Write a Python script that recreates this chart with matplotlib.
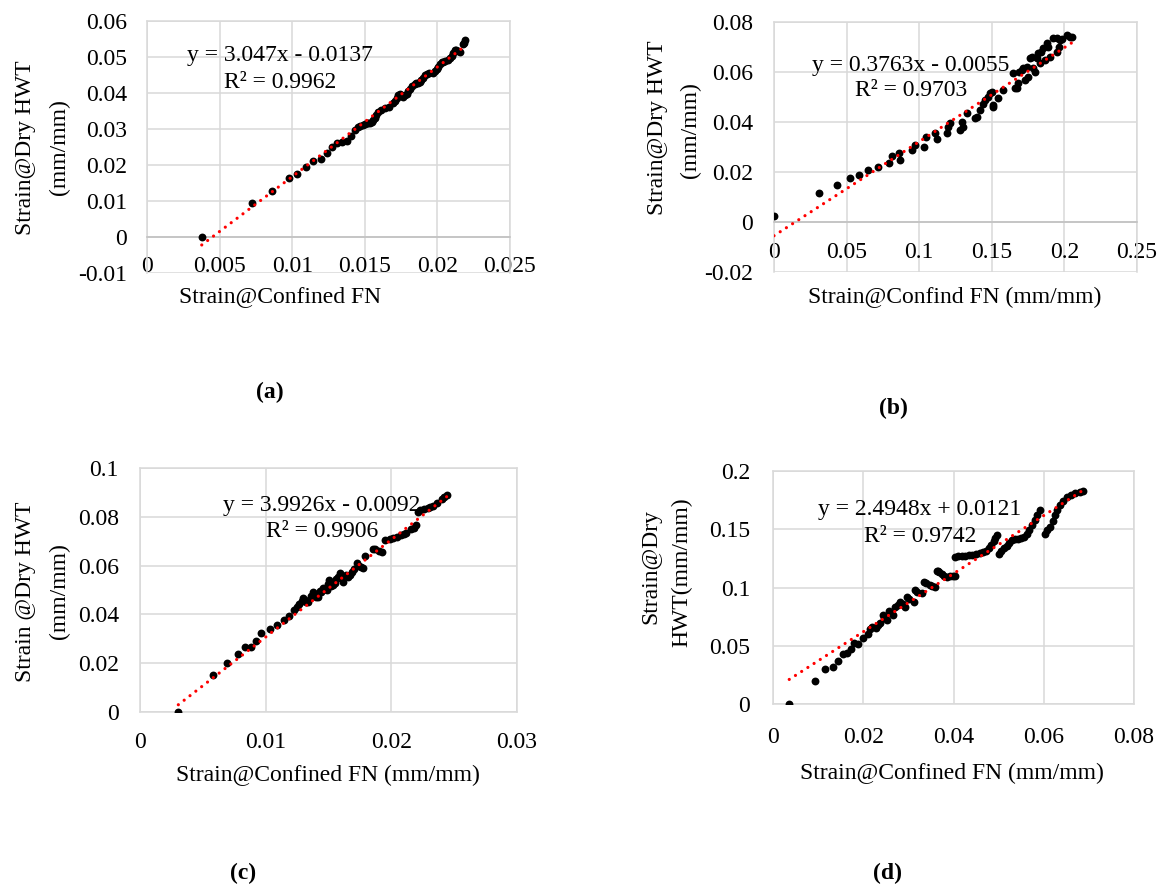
import matplotlib
matplotlib.use("Agg")
import matplotlib.pyplot as plt
from matplotlib.ticker import FuncFormatter, MultipleLocator
import numpy as np

plt.rcParams['font.family'] = ['Liberation Serif', 'DejaVu Serif']
plt.rcParams['axes.unicode_minus'] = False

# ---------------- data ----------------
# (a)
xa = [0.00377, 0.00721, 0.00863, 0.00978, 0.01033, 0.01095, 0.01146, 0.01196, 0.01237, 0.01276,
      0.01311, 0.01340, 0.01375, 0.01403, 0.01432, 0.01467, 0.01490, 0.01513, 0.01535, 0.01559,
      0.01593, 0.01615, 0.01639, 0.01665, 0.01697, 0.01731, 0.01755, 0.01777, 0.01800, 0.01823,
      0.01845, 0.01869, 0.01890, 0.01915, 0.01940, 0.01967, 0.02007, 0.02041, 0.02070, 0.02098,
      0.02120, 0.02140, 0.02156, 0.02175, 0.02190,
      0.01450, 0.01500, 0.01525, 0.01548, 0.01570, 0.01580, 0.01710, 0.01720, 0.01745, 0.01765,
      0.01790, 0.01812, 0.01855, 0.01880, 0.01900, 0.01925, 0.01985, 0.02000, 0.02020, 0.02030,
      0.02055, 0.02085, 0.02110, 0.02130, 0.02182]
ya = [0.0000, 0.0095, 0.0129, 0.0165, 0.0175, 0.0194, 0.0212, 0.0216, 0.0234, 0.0251,
      0.0262, 0.0264, 0.0268, 0.0281, 0.0297, 0.0308, 0.0312, 0.0316, 0.0318, 0.0325,
      0.0348, 0.0352, 0.0357, 0.0362, 0.0371, 0.0394, 0.0392, 0.0394, 0.0405, 0.0419,
      0.0424, 0.0427, 0.0437, 0.0450, 0.0455, 0.0456, 0.0473, 0.0487, 0.0492, 0.0503,
      0.0519, 0.0516, 0.0515, 0.0535, 0.0547,
      0.0305, 0.0314, 0.0317, 0.0320, 0.0330, 0.0338, 0.0378, 0.0387, 0.0396, 0.0390,
      0.0398, 0.0412, 0.0428, 0.0430, 0.0443, 0.0454, 0.0462, 0.0466, 0.0480, 0.0485,
      0.0490, 0.0497, 0.0510, 0.0520, 0.0540]
fit_a = (3.047, -0.0137)
eq_a = ["y = 3.047x - 0.0137", "R² = 0.9962"]

# (b)
xb = [0.0000, 0.0312, 0.0436, 0.0523, 0.0588, 0.0650, 0.0718, 0.0794, 0.0810, 0.0863,
      0.0868, 0.0948, 0.0971, 0.1033, 0.1047, 0.1109, 0.1120, 0.1194, 0.1212, 0.1281,
      0.1293, 0.1327, 0.1384, 0.1396, 0.1419, 0.1453, 0.1472, 0.1488, 0.1506, 0.1511,
      0.1545, 0.1580, 0.1649, 0.1660, 0.1671, 0.1683, 0.1706, 0.1717, 0.1729, 0.1752,
      0.1763, 0.1775, 0.1786, 0.1809, 0.1821, 0.1832, 0.1855, 0.1867, 0.1878, 0.1924,
      0.1947, 0.1947, 0.1970, 0.2016, 0.2039, 0.2050,
      0.1690, 0.1740, 0.1800, 0.1840, 0.1890, 0.1900, 0.1960, 0.1985, 0.1500, 0.1440,
      0.1300, 0.1200]
yb = [0.0024, 0.0117, 0.0148, 0.0175, 0.0189, 0.0208, 0.0221, 0.0235, 0.0264, 0.0275,
      0.0248, 0.0286, 0.0308, 0.0299, 0.0341, 0.0355, 0.0331, 0.0357, 0.0395, 0.0368,
      0.0401, 0.0435, 0.0415, 0.0421, 0.0448, 0.0488, 0.0501, 0.0515, 0.0459, 0.0468,
      0.0495, 0.0528, 0.0595, 0.0535, 0.0535, 0.0555, 0.0608, 0.0615, 0.0568, 0.0581,
      0.0655, 0.0661, 0.0615, 0.0655, 0.0675, 0.0635, 0.0695, 0.0648, 0.0715, 0.0735,
      0.0681, 0.0735, 0.0728, 0.0748, 0.0741, 0.0739,
      0.0600, 0.0620, 0.0600, 0.0680, 0.0700, 0.0660, 0.0700, 0.0730, 0.0520, 0.0470,
      0.0380, 0.0380]
fit_b = (0.3763, -0.0055)
eq_b = ["y = 0.3763x - 0.0055", "R² = 0.9703"]

# (c)
xc = [0.00305, 0.00583, 0.00694, 0.00782, 0.00835, 0.00880, 0.00923, 0.00963, 0.01034, 0.01087,
      0.01146, 0.01185, 0.01225, 0.01268, 0.01300, 0.01320, 0.01340, 0.01379, 0.01400, 0.01419,
      0.01440, 0.01459, 0.01485, 0.01507, 0.01520, 0.01538, 0.01560, 0.01575, 0.01591, 0.01618,
      0.01640, 0.01671, 0.01700, 0.01724, 0.01777, 0.01790, 0.01856, 0.01923, 0.01949, 0.01990,
      0.02042, 0.02080, 0.02120, 0.02160, 0.02200, 0.02227, 0.02294, 0.02330, 0.02360, 0.02400,
      0.02440,
      0.01250, 0.01290, 0.01310, 0.01360, 0.01390, 0.01430, 0.01470, 0.01495, 0.01550, 0.01600,
      0.01655, 0.01685, 0.01740, 0.01760, 0.01870, 0.01900, 0.02010, 0.02100, 0.02180, 0.02210,
      0.02260, 0.02310, 0.02420]
yc = [0.0000, 0.0152, 0.0202, 0.0238, 0.0268, 0.0265, 0.0292, 0.0323, 0.0339, 0.0357,
      0.0377, 0.0393, 0.0418, 0.0443, 0.0466, 0.0450, 0.0452, 0.0493, 0.0470, 0.0473,
      0.0490, 0.0507, 0.0500, 0.0541, 0.0515, 0.0520, 0.0545, 0.0555, 0.0568, 0.0534,
      0.0560, 0.0561, 0.0585, 0.0609, 0.0589, 0.0639, 0.0670, 0.0657, 0.0705, 0.0710,
      0.0718, 0.0725, 0.0735, 0.0748, 0.0766, 0.0828, 0.0835, 0.0845, 0.0858, 0.0872,
      0.0889,
      0.0430, 0.0455, 0.0460, 0.0475, 0.0485, 0.0495, 0.0505, 0.0525, 0.0530, 0.0550,
      0.0555, 0.0575, 0.0600, 0.0595, 0.0668, 0.0660, 0.0715, 0.0730, 0.0755, 0.0820,
      0.0830, 0.0840, 0.0880]
fit_c = (3.9926, -0.0092)
eq_c = ["y = 3.9926x - 0.0092", "R² = 0.9906"]

# (d)
xd = [0.0036, 0.0093, 0.0115, 0.0134, 0.0143, 0.0155, 0.0164, 0.0173, 0.0180, 0.0189,
      0.0200, 0.0211, 0.0219, 0.0228, 0.0237, 0.0243, 0.0252, 0.0258, 0.0267, 0.0271,
      0.0282, 0.0293, 0.0297, 0.0312, 0.0315, 0.0330, 0.0335, 0.0348, 0.0359, 0.0363,
      0.0368, 0.0374, 0.0380, 0.0385, 0.0392, 0.0398, 0.0404,
      0.0404, 0.0410, 0.0418, 0.0426, 0.0434, 0.0442, 0.0450, 0.0458, 0.0465, 0.0472,
      0.0478, 0.0484, 0.0489, 0.0493, 0.0497,
      0.0500, 0.0506, 0.0512, 0.0518, 0.0524, 0.0530, 0.0537, 0.0544, 0.0550, 0.0556,
      0.0562, 0.0568, 0.0574, 0.0580, 0.0586, 0.0592,
      0.0603, 0.0608, 0.0614, 0.0620, 0.0625, 0.0630, 0.0636, 0.0643, 0.0651, 0.0660,
      0.0670, 0.0680, 0.0688,
      0.0216, 0.0233, 0.0247, 0.0262, 0.0276, 0.0289, 0.0302, 0.0320, 0.0340, 0.0352,
      0.0366]
yd = [0.0000, 0.0200, 0.0297, 0.0315, 0.0372, 0.0429, 0.0435, 0.0470, 0.0521, 0.0515,
      0.0564, 0.0601, 0.0664, 0.0650, 0.0698, 0.0764, 0.0721, 0.0798, 0.0764, 0.0835,
      0.0878, 0.0835, 0.0921, 0.0878, 0.0979, 0.0950, 0.1050, 0.1022, 0.1007, 0.1144,
      0.1130, 0.1116, 0.1100, 0.1093, 0.1095, 0.1097, 0.1099,
      0.1264, 0.1268, 0.1270, 0.1272, 0.1275, 0.1279, 0.1285, 0.1292, 0.1302, 0.1316,
      0.1335, 0.1365, 0.1395, 0.1425, 0.1451,
      0.1288, 0.1310, 0.1335, 0.1360, 0.1385, 0.1405, 0.1418, 0.1420, 0.1422, 0.1430,
      0.1455, 0.1495, 0.1535, 0.1580, 0.1625, 0.1666,
      0.1459, 0.1490, 0.1522, 0.1570, 0.1622, 0.1665, 0.1708, 0.1745, 0.1774, 0.1795,
      0.1808, 0.1823, 0.1831,
      0.0640, 0.0680, 0.0740, 0.0780, 0.0850, 0.0860, 0.0900, 0.0960, 0.1035, 0.1010,
      0.1138]
fit_d = (2.4948, 0.0121)
eq_d = ["y = 2.4948x + 0.0121", "R² = 0.9742"]

W, H = 1162, 888
fig = plt.figure(figsize=(W / 100, H / 100), dpi=100)
FS = 17
GRID = '#d9d9d9'
PT = 100 / 72.0  # pixels per point


def px_rect(l, t, r, b):
    return [l / W, 1 - b / H, (r - l) / W, (b - t) / H]


def fmt(v, pos):
    v = round(v, 6)
    if v == 0:
        return '0'
    return f'{v:g}'


def panel(rect, x, y, fit, xlim, ylim, xstep, ystep, xpad_px, ypad_px, axis_at_zero):
    ax = fig.add_axes(px_rect(*rect))
    ax.set_xlim(*xlim)
    ax.set_ylim(*ylim)
    ax.xaxis.set_major_locator(MultipleLocator(xstep))
    ax.yaxis.set_major_locator(MultipleLocator(ystep))
    ax.xaxis.set_major_formatter(FuncFormatter(fmt))
    ax.yaxis.set_major_formatter(FuncFormatter(fmt))
    ax.grid(True, color=GRID, lw=1.1, zorder=0)
    ax.set_axisbelow(True)
    for s in ax.spines.values():
        s.set_color(GRID)
        s.set_linewidth(1.1)
    if axis_at_zero:
        ax.spines['bottom'].set_position(('data', 0))
        ax.spines['bottom'].set_color('#bfbfbf')
    ax.tick_params(length=0, labelsize=FS, colors='black')
    ax.tick_params(axis='x', pad=xpad_px / PT)
    ax.tick_params(axis='y', pad=ypad_px / PT)
    ax.scatter(x, y, s=32, color='black', zorder=3, linewidths=0)
    x0, x1 = min(x), max(x)
    xs = np.array([x0, x1])
    ax.plot(xs, fit[0] * xs + fit[1], color='red', lw=2.3,
            linestyle=(0, (0.01, 2.3)), dash_capstyle='round', zorder=4)
    return ax


panel((147, 21, 510, 273), xa, ya, fit_a, (0, 0.025), (-0.01, 0.06), 0.005, 0.01, 19, 20, True)
panel((774, 22, 1137, 272), xb, yb, fit_b, (0, 0.25), (-0.02, 0.08), 0.05, 0.02, 20, 21, True)
panel((140, 468, 517, 712), xc, yc, fit_c, (0, 0.03), (0, 0.1), 0.01, 0.02, 20, 21, False)
panel((773, 471, 1134, 704), xd, yd, fit_d, (0, 0.08), (0, 0.2), 0.02, 0.05, 23, 23, False)


def ftext(x, y, s, **kw):
    fig.text(x / W, 1 - y / H, s, fontsize=kw.pop('fontsize', FS), ha=kw.pop('ha', 'center'),
             va=kw.pop('va', 'center'), **kw)


# equations
for (cx, y1, y2), eq in [((280, 56, 83), eq_a), ((911, 66, 91), eq_b),
                         ((322, 506, 531), eq_c), ((920, 510, 537), eq_d)]:
    ftext(cx, y1, eq[0])
    ftext(cx, y2, eq[1])

# y labels
ftext(26, 148, 'Strain@Dry HWT', rotation=90)
ftext(59, 147, '(mm/mm)', rotation=90)
ftext(658, 128, 'Strain@Dry HWT', rotation=90)
ftext(690, 130, '(mm/mm)', rotation=90)
ftext(26, 592, 'Strain @Dry HWT', rotation=90)
ftext(59, 591, '(mm/mm)', rotation=90)
ftext(651, 567, 'Strain@Dry', rotation=90)
ftext(682, 572, 'HWT(mm/mm)', rotation=90)

# x labels
ftext(280, 297, 'Strain@Confined FN')
ftext(955, 297, 'Strain@Confind FN (mm/mm)')
ftext(328, 775, 'Strain@Confined FN (mm/mm)')
ftext(952, 773, 'Strain@Confined FN (mm/mm)')

# captions
ftext(270, 392, '(a)', fontweight='bold')
ftext(893, 408, '(b)', fontweight='bold')
ftext(243, 873, '(c)', fontweight='bold')
ftext(887, 873, '(d)', fontweight='bold')

fig.savefig('out.png', dpi=100)
